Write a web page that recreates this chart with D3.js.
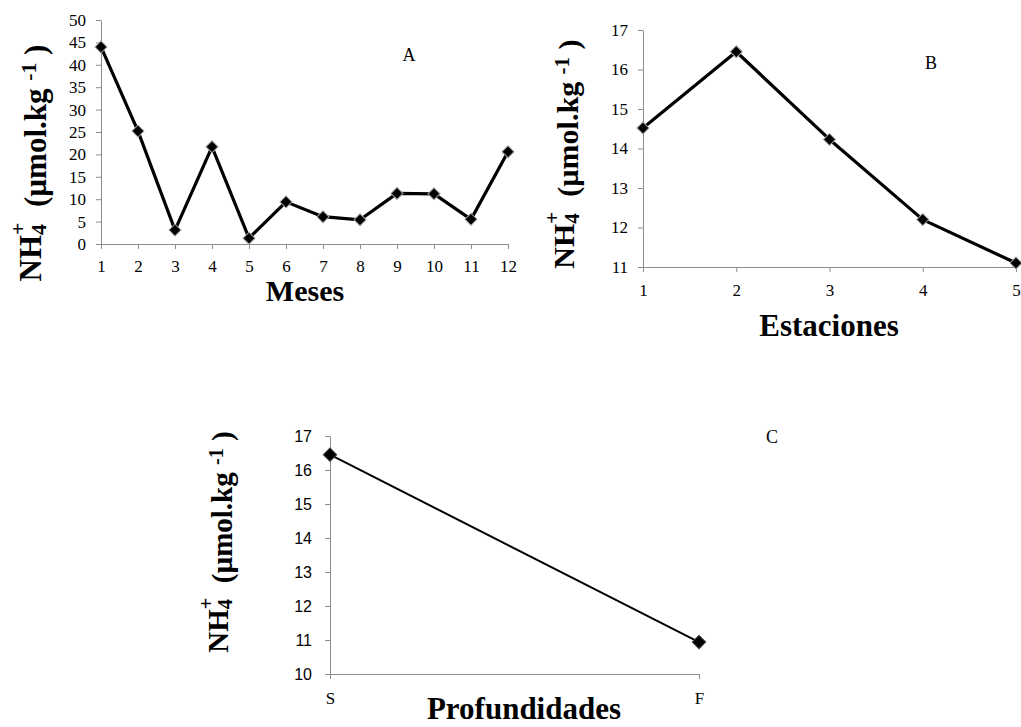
<!DOCTYPE html>
<html>
<head>
<meta charset="utf-8">
<script src="https://cdn.jsdelivr.net/npm/d3@7/dist/d3.min.js"></script>
<style>
  body { margin: 0; background: #fff; }
  svg { display: block; }
</style>
</head>
<body>
<svg id="chart" width="1021" height="727"></svg>
<script>
// --- data ---
const monthCategories = [1, 2, 3, 4, 5, 6, 7, 8, 9, 10, 11, 12];
const monthValues = [44.0, 25.2, 3.1, 21.7, 1.3, 9.4, 6.1, 5.4, 11.3, 11.2, 5.5, 20.6];
const monthYTicks = [0, 5, 10, 15, 20, 25, 30, 35, 40, 45, 50];

const stationCategories = [1, 2, 3, 4, 5];
const stationValues = [14.52, 16.45, 14.23, 12.2, 11.1];
const stationYTicks = [11, 12, 13, 14, 15, 16, 17];

const depthCategories = ['S', 'F'];
const depthValues = [16.45, 10.94];
const depthYTicks = [10, 11, 12, 13, 14, 15, 16, 17];

const SERIF = '"Liberation Serif", "Times New Roman", serif';
const SANS = '"Liberation Sans", Arial, sans-serif';
const AXIS_COLOR = '#8c8c8c';

const svg = d3.select('#chart');

function drawPanel(cfg) {
    const g = svg.append('g');

    const x = cfg.categorical
        ? d3.scalePoint().domain(cfg.categories).range([cfg.left, cfg.right])
        : d3.scaleLinear().domain(d3.extent(cfg.categories)).range([cfg.left, cfg.right]);
    const y = d3.scaleLinear().domain(cfg.yDomain).range([cfg.bottom, cfg.top]);

    // y axis
    const yAxis = g.append('g')
        .attr('transform', `translate(${cfg.left},0)`)
        .call(d3.axisLeft(y)
            .tickValues(cfg.yTicks)
            .tickFormat(d3.format('d'))
            .tickSize(5)
            .tickPadding(cfg.yTickPadding)
            .tickSizeOuter(0));
    yAxis.selectAll('path, line').attr('stroke', AXIS_COLOR);
    yAxis.selectAll('text')
        .style('font-family', cfg.yTickFont)
        .style('font-size', cfg.yTickSize + 'px')
        .attr('fill', '#000');

    // x axis
    const xAxis = g.append('g')
        .attr('transform', `translate(0,${cfg.bottom})`)
        .call(d3.axisBottom(x)
            .tickValues(cfg.categories)
            .tickFormat(cfg.categorical ? null : d3.format('d'))
            .tickSize(5)
            .tickSizeOuter(0));
    xAxis.selectAll('path, line').attr('stroke', AXIS_COLOR);
    xAxis.selectAll('text')
        .attr('dy', null)
        .attr('y', cfg.xLabelOffset)
        .style('font-family', SERIF)
        .style('font-size', '17px')
        .attr('fill', '#000');

    const pts = cfg.categories.map((c, i) => ({ c, v: cfg.values[i] }));

    g.append('path')
        .datum(pts)
        .attr('fill', 'none')
        .attr('stroke', '#000')
        .attr('stroke-width', cfg.lineWidth)
        .attr('stroke-linejoin', 'round')
        .attr('d', d3.line().x(d => x(d.c)).y(d => y(d.v)));

    // Excel-style diamond = square turned 45 degrees
    const diamond = d3.symbol().type(d3.symbolSquare).size(cfg.markerSize);
    g.selectAll('.marker')
        .data(pts)
        .join('path')
        .attr('class', 'marker')
        .attr('d', diamond)
        .attr('transform', d => `translate(${x(d.c)},${y(d.v)}) rotate(45)`)
        .attr('fill', '#000')
        .attr('stroke', cfg.markerStroke)
        .attr('stroke-width', 1);

    // panel letter
    g.append('text')
        .attr('x', cfg.letter.x)
        .attr('y', cfg.letter.y)
        .attr('text-anchor', 'middle')
        .style('font-family', SERIF)
        .style('font-size', '18px')
        .text(cfg.letter.text);

    // x title
    g.append('text')
        .attr('x', cfg.xTitle.x)
        .attr('y', cfg.xTitle.y)
        .attr('text-anchor', 'middle')
        .style('font-family', SERIF)
        .style('font-size', cfg.xTitle.size + 'px')
        .style('font-weight', 'bold')
        .text(cfg.xTitle.text);

    // y title: NH4+ (µmol.kg -1), with 4 and + stacked
    const yt = g.append('text')
        .attr('transform', `translate(${cfg.yTitle.x},${cfg.yTitle.y}) rotate(-90)`)
        .attr('text-anchor', 'middle')
        .style('font-family', SERIF)
        .style('font-size', cfg.yTitle.size + 'px')
        .style('font-weight', 'bold');
    yt.append('tspan').text('NH');
    yt.append('tspan').attr('dy', '0.22em').style('font-size', '70%').text('4');
    yt.append('tspan').attr('dx', '-0.5em').attr('dy', '-0.95em').style('font-size', '70%').text('+');
    yt.append('tspan').attr('dy', '0.66em').text('\u00a0\u00a0(\u00b5mol.kg\u00a0');
    yt.append('tspan').attr('dy', '-0.45em').style('font-size', '70%').text('-1');
    yt.append('tspan').attr('dy', '0.32em').text('\u00a0)');
}

drawPanel({
    categories: monthCategories, values: monthValues, yTicks: monthYTicks,
    yDomain: [0, 50], left: 101, right: 508, top: 20, bottom: 244,
    yTickFont: SERIF, yTickSize: 17, yTickPadding: 10,
    xLabelOffset: 28, lineWidth: 3.2, markerSize: 72, markerStroke: '#a0a0a0',
    letter: { text: 'A', x: 409, y: 61 },
    xTitle: { text: 'Meses', x: 305, y: 301, size: 30 },
    yTitle: { x: 41, y: 163, size: 31 }
});

drawPanel({
    categories: stationCategories, values: stationValues, yTicks: stationYTicks,
    yDomain: [11, 17], left: 643, right: 1016, top: 30, bottom: 267,
    yTickFont: SERIF, yTickSize: 17, yTickPadding: 10,
    xLabelOffset: 29, lineWidth: 3.2, markerSize: 72, markerStroke: '#a0a0a0',
    letter: { text: 'B', x: 931, y: 69 },
    xTitle: { text: 'Estaciones', x: 829, y: 336, size: 31 },
    yTitle: { x: 574, y: 154, size: 30 }
});

drawPanel({
    categories: depthCategories, values: depthValues, yTicks: depthYTicks, categorical: true,
    yDomain: [10, 17], left: 330, right: 699, top: 436, bottom: 674,
    yTickFont: SANS, yTickSize: 16, yTickPadding: 13,
    xLabelOffset: 30, lineWidth: 2, markerSize: 90, markerStroke: '#404040',
    letter: { text: 'C', x: 772, y: 443 },
    xTitle: { text: 'Profundidades', x: 524, y: 719, size: 31 },
    yTitle: { x: 228, y: 542, size: 29 }
});
</script>
</body>
</html>
